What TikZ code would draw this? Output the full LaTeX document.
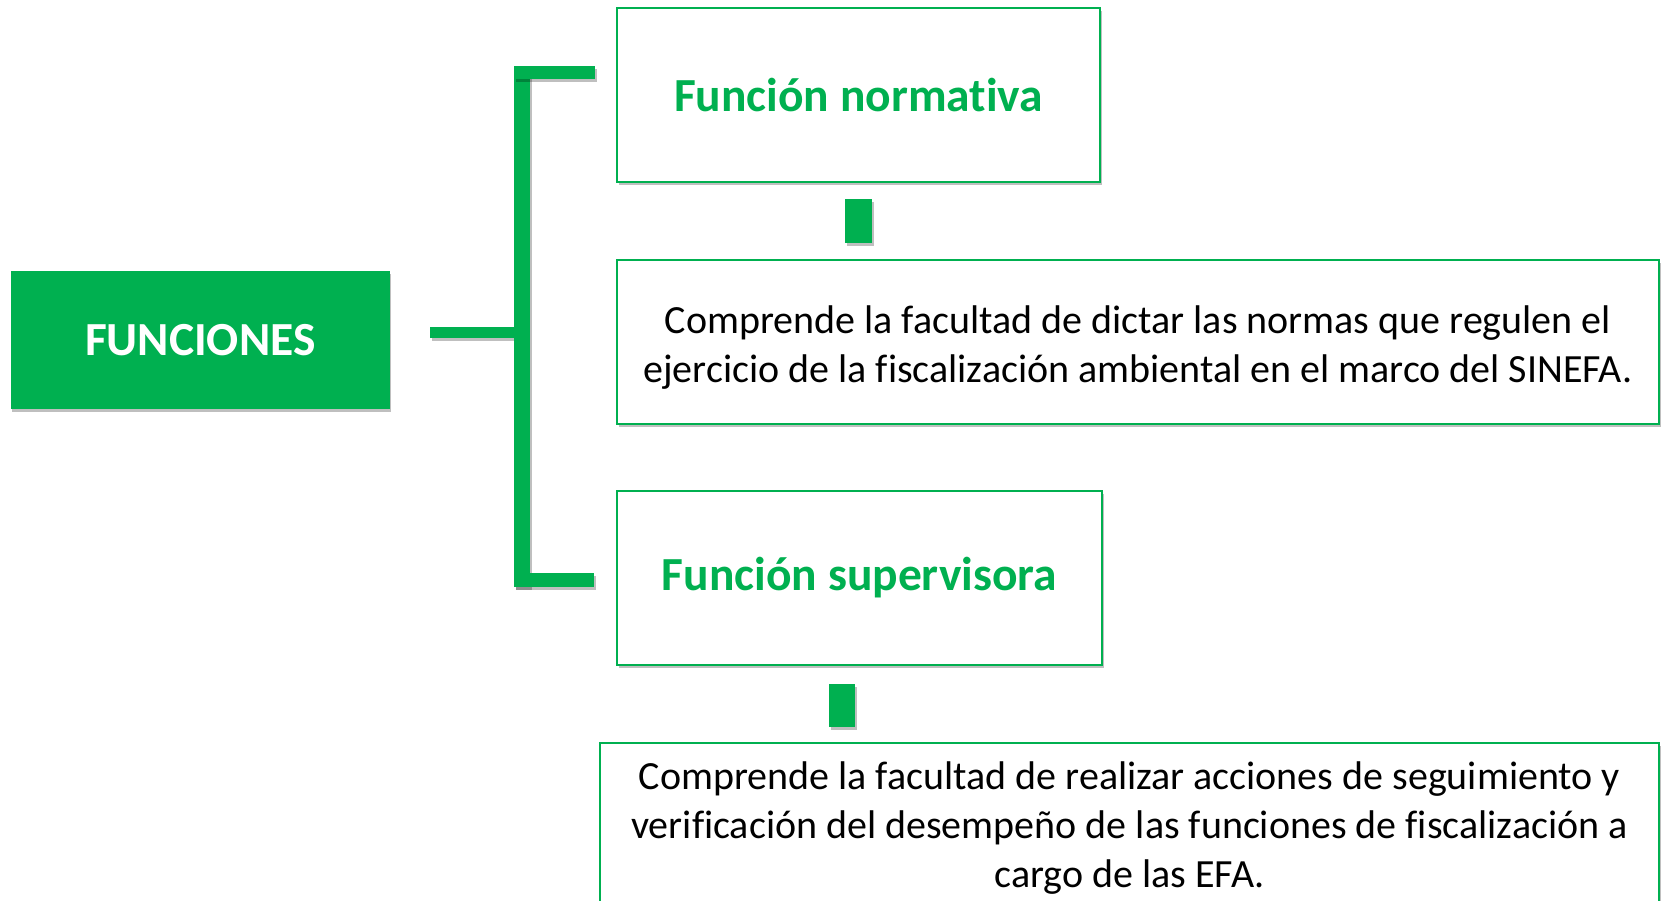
\documentclass[tikz,border=0pt]{standalone}
\usepackage{fontspec}
\setmainfont[Ligatures={NoCommon,NoRequired}]{Carlito}
\usetikzlibrary{shadows}
\definecolor{ofgreen}{RGB}{0,176,80}
\tikzset{
  shad/.style={drop shadow={shadow xshift=1.5pt, shadow yshift=-3pt, opacity=0.25, fill=black}},
  mainbox/.style={fill=ofgreen, draw=none, shad, text=white, font=\fontsize{47.5}{54}\selectfont\bfseries},
  headbox/.style={draw=ofgreen, line width=1.6pt, fill=white, shad, text=ofgreen, font=\fontsize{47.5}{54}\selectfont\bfseries},
  frame/.style={draw=ofgreen, line width=1.6pt, fill=white, shad},
  bodytext/.style={text=black, align=center, font=\fontsize{40}{49}\selectfont},
  bar/.style={fill=ofgreen, shad},
}
\begin{document}
\begin{tikzpicture}[x=1pt,y=-1pt]
\useasboundingbox (0,0) rectangle (1661,901);
\node[mainbox, minimum width=379pt, minimum height=138pt] (fun) at (200.3,340) {FUNCIONES};
\node[headbox, minimum width=483pt, minimum height=174pt] (n1) at (858.5,95) {Función normativa};
\node[frame, minimum width=1042pt, minimum height=164pt] (d1) at (1138,342) {};
\node[bodytext] (d1t) at ([yshift=-5.5pt]d1.center) {Comprende la facultad de dictar las normas que regulen el\\ejercicio de la fiscalización ambiental en el marco del SINEFA.};
\node[headbox, minimum width=485pt, minimum height=174pt] (n2) at (859.5,578) {\raisebox{-3pt}{Función supervisora}};
\node[frame, bodytext, minimum width=1059pt, minimum height=171pt] (d2) at (1129.5,828.5) {Comprende la facultad de realizar acciones de seguimiento y\\verificación del desempeño de las funciones de fiscalización a\\cargo de las EFA.};
% bracket
\coordinate (stubL) at (430,327);
\coordinate (stubR) at (520,338);
\fill[bar] (stubL) rectangle (stubR);
\fill[bar] (514,66) rectangle (530,587);
\fill[bar] (514,66) rectangle (595,79);
\fill[bar] (514,573) rectangle (594,587);
% small connectors
\fill[bar] ([xshift=-13.5pt,yshift=-16pt]n1.south) rectangle ([xshift=13.5pt,yshift=16pt]d1.north -| n1.south);
\fill[bar] ([xshift=-30.5pt,yshift=-18pt]n2.south) rectangle ([xshift=-4.5pt,yshift=15pt]d2.north -| n2.south);
\end{tikzpicture}
\end{document}
